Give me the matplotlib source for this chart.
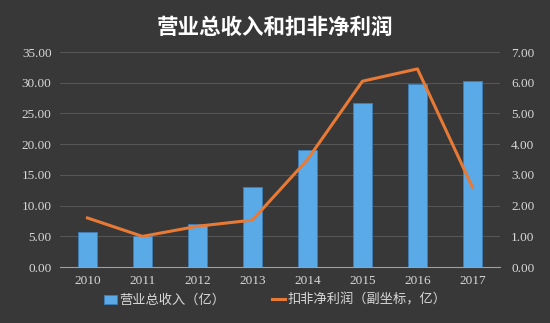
import numpy as np
import matplotlib.pyplot as plt

plt.rcParams['font.family'] = ['Noto Sans CJK SC', 'DejaVu Sans']

years = ['2010', '2011', '2012', '2013', '2014', '2015', '2016', '2017']
revenue = [5.7, 5.0, 7.0, 13.0, 19.1, 26.7, 29.8, 30.3]
profit = [1.6, 1.0, 1.33, 1.53, 3.5, 6.05, 6.45, 2.6]
left_ticks = [0, 5, 10, 15, 20, 25, 30, 35]
right_ticks = [0, 1, 2, 3, 4, 5, 6, 7]

bg = '#383838'
fig = plt.figure(figsize=(5.5, 3.23), dpi=100, facecolor=bg)
ax = fig.add_axes([0.109, 0.173, 0.8, 0.666])
ax.set_facecolor(bg)
x = np.arange(len(years))

ax.bar(x, revenue, width=0.33, color='#5aaae8', edgecolor='#3d7fb8', linewidth=0.6,
       zorder=2, label='营业总收入（亿）')
ax.set_ylim(0, 35)
ax.set_xlim(-0.5, len(years) - 0.5)
ax.set_yticks(left_ticks)
ax.set_yticklabels([f'{v:.2f}' for v in left_ticks], family='Liberation Serif',
                   fontsize=9.5, color='#d8d8d8')
ax.set_xticks(x)
ax.set_xticklabels(years, family='Liberation Serif', fontsize=9.5, color='#d8d8d8')
ax.grid(axis='y', color='#575757', linewidth=0.7, zorder=0)
ax.tick_params(length=0, pad=6)
for s in ['top', 'right', 'left']:
    ax.spines[s].set_visible(False)
ax.spines['bottom'].set_color('#a0a0a0')
ax.spines['bottom'].set_linewidth(0.8)

ax2 = ax.twinx()
ax2.plot(x, profit, color='#e87a35', linewidth=2.2, zorder=3,
         label='扣非净利润（副坐标，亿）')
ax2.set_ylim(0, 7)
ax2.set_yticks(right_ticks)
ax2.set_yticklabels([f'{v:.2f}' for v in right_ticks], family='Liberation Serif',
                    fontsize=9.5, color='#d8d8d8')
ax2.tick_params(length=0, pad=8)
for s in ax2.spines.values():
    s.set_visible(False)

fig.text(0.5, 0.915, '营业总收入和扣非净利润', ha='center', va='center',
         fontsize=15.5, fontweight='bold', color='white')

h1, l1 = ax.get_legend_handles_labels()
h2, l2 = ax2.get_legend_handles_labels()
leg = fig.legend(h1 + h2, l1 + l2, loc='center', bbox_to_anchor=(0.5, 0.07), ncol=2,
                 frameon=False, fontsize=9.5, labelcolor='#d8d8d8',
                 handlelength=1.0, handletextpad=0.2, columnspacing=3.5)

fig.savefig('out.png', dpi=100, facecolor=bg)
